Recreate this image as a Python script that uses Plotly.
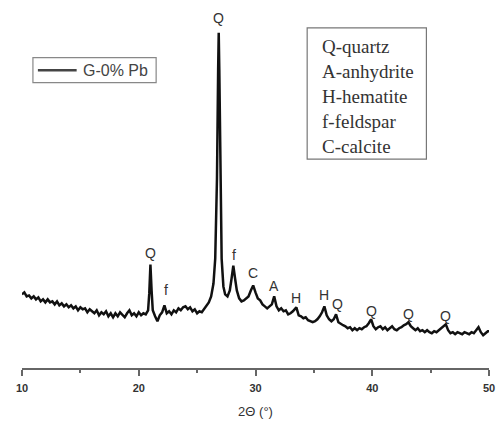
import plotly.graph_objects as go

two_theta = [
    10.0, 10.2, 10.4, 10.6, 10.8, 11.0, 11.2, 11.4, 11.6, 11.8,
    12.0, 12.2, 12.4, 12.6, 12.8, 13.0, 13.2, 13.4, 13.6, 13.8,
    14.0, 14.2, 14.4, 14.6, 14.8, 15.0, 15.2, 15.4, 15.6, 15.8,
    16.0, 16.2, 16.4, 16.6, 16.8, 17.0, 17.2, 17.4, 17.6, 17.8,
    18.0, 18.2, 18.4, 18.6, 18.8, 19.0, 19.2, 19.4, 19.6, 19.8,
    20.0, 20.2, 20.4, 20.6, 20.8, 20.9, 21.0, 21.1, 21.2, 21.4,
    21.6, 21.8, 22.0, 22.2, 22.4, 22.6, 22.8, 23.0, 23.2, 23.4,
    23.6, 23.8, 24.0, 24.2, 24.4, 24.6, 24.8, 25.0, 25.2, 25.4,
    25.6, 25.8, 26.0, 26.2, 26.4, 26.55, 26.7, 26.8, 26.85, 26.9,
    27.0, 27.1, 27.25, 27.4, 27.6, 27.8, 27.95, 28.1, 28.25, 28.4,
    28.6, 28.8, 29.0, 29.2, 29.4, 29.6, 29.8, 30.0, 30.2, 30.4,
    30.6, 30.8, 31.0, 31.2, 31.4, 31.6, 31.8, 32.0, 32.2, 32.4,
    32.6, 32.8, 33.0, 33.2, 33.5, 33.7, 33.9, 34.1, 34.3, 34.5,
    34.7, 34.9, 35.1, 35.3, 35.5, 35.7, 35.9, 36.1, 36.3, 36.5,
    36.7, 36.9, 37.1, 37.3, 37.5, 37.7, 37.9, 38.1, 38.3, 38.5,
    38.7, 38.9, 39.1, 39.3, 39.5, 39.7, 39.9, 40.1, 40.3, 40.5,
    40.7, 40.9, 41.1, 41.3, 41.5, 41.7, 41.9, 42.1, 42.3, 42.5,
    42.7, 42.9, 43.1, 43.3, 43.5, 43.7, 43.9, 44.1, 44.3, 44.5,
    44.7, 44.9, 45.1, 45.3, 45.5, 45.7, 45.9, 46.1, 46.3, 46.5,
    46.7, 46.9, 47.1, 47.3, 47.5, 47.7, 47.9, 48.1, 48.3, 48.5,
    48.7, 48.9, 49.1, 49.3, 49.5, 49.7, 49.9, 50.0,
]

intensity = [
    74, 76, 72, 73, 70, 72, 69, 71, 67, 69,
    66, 69, 66, 67, 64, 67, 63, 65, 62, 64,
    61, 63, 60, 62, 58, 61, 59, 60, 56, 59,
    57, 55, 58, 53, 56, 54, 57, 52, 55, 51,
    55, 52, 56, 53, 51, 55, 58, 53, 55, 52,
    56, 53, 55, 54, 58, 75, 104, 78, 58, 52,
    47, 53, 56, 63, 55, 57, 54, 58, 56, 60,
    58, 61, 62, 59, 61, 57, 59, 55, 57, 56,
    59, 62, 66, 72, 85, 110, 190, 300, 337, 300,
    190, 110, 82, 74, 72, 78, 90, 103, 90, 78,
    70, 67, 68, 70, 72, 78, 83, 76, 70, 68,
    64, 62, 60, 62, 64, 72, 62, 58, 60, 57,
    58, 54, 55, 57, 61, 53, 52, 50, 51, 48,
    47, 46, 47, 49, 52, 56, 62, 53, 49, 47,
    49, 54, 46, 44, 43, 42, 40, 41, 38, 40,
    38, 40, 39, 41, 42, 45, 49, 42, 39, 41,
    42, 39, 41, 38, 40, 42, 39, 38, 40, 41,
    43, 44, 46, 42, 40, 38, 40, 37, 38, 36,
    38, 36, 35, 37, 36, 38, 40, 42, 44, 38,
    35, 36, 34, 36, 35, 34, 36, 35, 34, 36,
    35, 38, 41, 36, 33, 35, 37, 37,
]

peak_labels = ["Q", "Q", "f", "f", "C", "A", "H", "H", "Q", "Q", "Q", "Q"]
peak_x = [26.85, 21.0, 22.3, 28.2, 29.8, 31.6, 33.5, 35.9, 37.0, 39.9, 43.1, 46.3]
peak_label_y = [352, 116, 78, 114, 96, 82, 70, 73, 64, 57, 54, 52]

phase_key = ["Q-quartz", "A-anhydrite", "H-hematite", "f-feldspar", "C-calcite"]

series_name = "G-0% Pb"

# plot area geometry (pixels) -> paper coords helpers
L, R, T, B = 22, 8, 5, 52
W, H = 500, 422
PW, PH = W - L - R, H - T - B


def px(xp):
    return (xp - L) / PW


def py(yp):
    return (H - B - yp) / PH


fig = go.Figure()
fig.add_trace(go.Scatter(
    x=two_theta, y=intensity, mode="lines", name=series_name,
    line=dict(color="#111111", width=2.5), showlegend=False,
))

for t, xx, yy in zip(peak_labels, peak_x, peak_label_y):
    fig.add_annotation(
        x=xx, y=yy, text=t, showarrow=False,
        font=dict(family="Liberation Sans, Arial", size=14, color="#333333"),
        xanchor="center", yanchor="middle",
    )

# series key box (drawn legend)
fig.add_shape(type="rect", xref="paper", yref="paper",
              x0=px(33), x1=px(157), y0=py(83), y1=py(58),
              line=dict(color="#888888", width=1.2), fillcolor="white", layer="below")
fig.add_shape(type="line", xref="paper", yref="paper",
              x0=px(38), x1=px(77), y0=py(70.5), y1=py(70.5),
              line=dict(color="#444444", width=2.5))
fig.add_annotation(
    xref="paper", yref="paper", x=px(81), y=py(71),
    xanchor="left", yanchor="middle", text=series_name, showarrow=False,
    font=dict(family="Liberation Sans, Arial", size=16, color="#444444"),
)

# phase key box
fig.add_shape(type="rect", xref="paper", yref="paper",
              x0=px(309), x1=px(429), y0=py(160), y1=py(28),
              line=dict(color="#777777", width=1.2), fillcolor="white", layer="below")
for i, name in enumerate(phase_key):
    fig.add_annotation(
        xref="paper", yref="paper", x=px(322), y=py(47 + i * 25),
        xanchor="left", yanchor="middle", align="left",
        text=name, showarrow=False,
        font=dict(family="Liberation Serif, Times New Roman", size=19, color="#333333"),
    )

fig.update_layout(
    width=W, height=H,
    margin=dict(l=L, r=R, t=T, b=B),
    paper_bgcolor="white", plot_bgcolor="white",
    showlegend=False,
    xaxis=dict(
        range=[10, 50], dtick=10, tick0=10,
        showline=True, linecolor="#666666", linewidth=2,
        ticks="outside", ticklen=6, tickcolor="#666666", tickwidth=1.5,
        minor=dict(dtick=5, ticks="outside", ticklen=3, tickcolor="#666666"),
        showgrid=False, zeroline=False,
        ticklabelstandoff=3,
        tickfont=dict(family="Liberation Sans, Arial", size=11, color="#333333", weight="bold"),
        title=dict(text="2Θ (°)", standoff=14,
                   font=dict(family="Liberation Sans, Arial", size=13, color="#333333")),
    ),
    yaxis=dict(range=[0, PH], visible=False),
)

fig.write_html("out.html")
